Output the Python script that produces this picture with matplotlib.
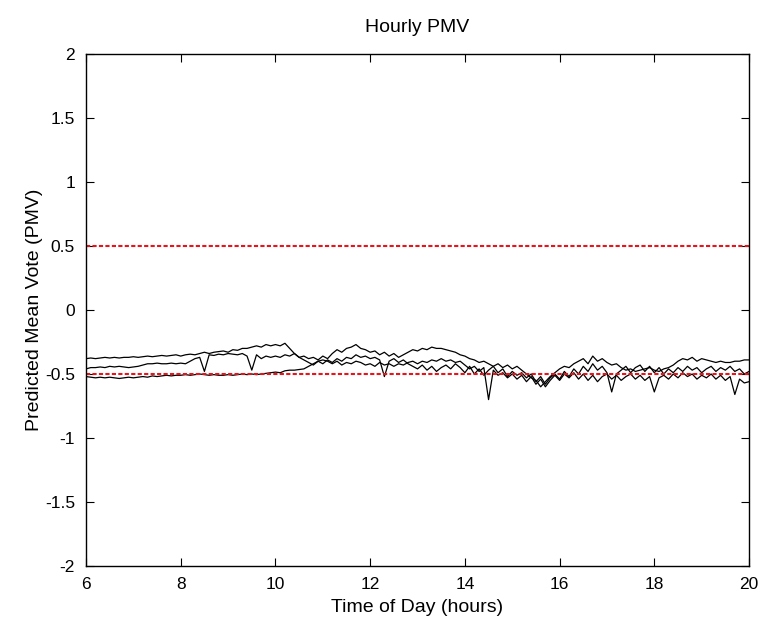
import numpy as np
import matplotlib
matplotlib.use("Agg")
import matplotlib.pyplot as plt

plt.rcParams['font.family'] = ['Liberation Sans', 'DejaVu Sans']
plt.rcParams['axes.unicode_minus'] = False

# time of day, one reading every 0.1 h
hours = np.round(np.arange(6.0, 20.01, 0.1), 1)

# three PMV traces
pmv_a = [
    -0.38, -0.375, -0.38, -0.375, -0.37, -0.375, -0.37, -0.375, -0.37, -0.37,
    -0.365, -0.37, -0.365, -0.36, -0.365, -0.36, -0.355, -0.36, -0.355, -0.35,
    -0.36, -0.35, -0.345, -0.35, -0.34, -0.33, -0.34, -0.33, -0.325, -0.32,
    -0.33, -0.31, -0.315, -0.30, -0.30, -0.29, -0.28, -0.29, -0.27, -0.28,
    -0.27, -0.28, -0.26, -0.30, -0.34, -0.37, -0.36, -0.38, -0.37, -0.39,
    -0.36, -0.38, -0.34, -0.31, -0.33, -0.30, -0.29, -0.27, -0.30, -0.31,
    -0.33, -0.32, -0.35, -0.33, -0.36, -0.34, -0.37, -0.35, -0.33, -0.31,
    -0.32, -0.30, -0.31, -0.29, -0.30, -0.30, -0.31, -0.32, -0.33, -0.35,
    -0.36, -0.38, -0.39, -0.41, -0.40, -0.42, -0.44, -0.42, -0.45, -0.43,
    -0.46, -0.44, -0.47, -0.50, -0.53, -0.55, -0.60, -0.56, -0.52, -0.49,
    -0.46, -0.44, -0.45, -0.42, -0.40, -0.38, -0.42, -0.36, -0.40, -0.38,
    -0.41, -0.43, -0.42, -0.45, -0.47, -0.46, -0.48, -0.47, -0.46, -0.45,
    -0.47, -0.48, -0.46, -0.45, -0.43, -0.40, -0.38, -0.39, -0.37, -0.40,
    -0.38, -0.39, -0.40, -0.41, -0.40, -0.41, -0.41, -0.40, -0.40, -0.39,
    -0.39,
]
pmv_b = [
    -0.46, -0.45, -0.45, -0.445, -0.45, -0.44, -0.445, -0.44, -0.445, -0.45,
    -0.445, -0.44, -0.43, -0.42, -0.42, -0.415, -0.42, -0.42, -0.415, -0.42,
    -0.415, -0.42, -0.40, -0.38, -0.37, -0.48, -0.35, -0.355, -0.345, -0.35,
    -0.34, -0.345, -0.35, -0.34, -0.36, -0.47, -0.35, -0.38, -0.36, -0.37,
    -0.36, -0.37, -0.35, -0.36, -0.34, -0.37, -0.39, -0.41, -0.43, -0.40,
    -0.42, -0.39, -0.41, -0.38, -0.40, -0.37, -0.38, -0.35, -0.37, -0.36,
    -0.38, -0.37, -0.39, -0.52, -0.40, -0.38, -0.41, -0.39, -0.42, -0.44,
    -0.46, -0.43, -0.47, -0.44, -0.48, -0.45, -0.43, -0.46, -0.42, -0.45,
    -0.49, -0.44, -0.50, -0.46, -0.51, -0.47, -0.44, -0.49, -0.46, -0.52,
    -0.48, -0.51, -0.49, -0.53, -0.50, -0.56, -0.52, -0.58, -0.53, -0.50,
    -0.54, -0.48, -0.52, -0.46, -0.50, -0.44, -0.48, -0.42, -0.47, -0.44,
    -0.49, -0.64, -0.50, -0.47, -0.44, -0.49, -0.45, -0.43, -0.48, -0.44,
    -0.49, -0.45, -0.50, -0.46, -0.49, -0.45, -0.48, -0.44, -0.47, -0.45,
    -0.49, -0.46, -0.44, -0.48, -0.45, -0.47, -0.44, -0.48, -0.46, -0.50,
    -0.48,
]
pmv_c = [
    -0.52, -0.525, -0.53, -0.525, -0.53, -0.525, -0.53, -0.535, -0.53, -0.525,
    -0.53, -0.525, -0.52, -0.525, -0.515, -0.52, -0.515, -0.51, -0.515, -0.51,
    -0.51, -0.505, -0.51, -0.505, -0.50, -0.505, -0.51, -0.505, -0.51, -0.51,
    -0.505, -0.51, -0.505, -0.50, -0.505, -0.50, -0.505, -0.50, -0.495, -0.49,
    -0.485, -0.49, -0.475, -0.47, -0.47, -0.465, -0.46, -0.44, -0.42, -0.40,
    -0.39, -0.40, -0.42, -0.40, -0.43, -0.41, -0.42, -0.40, -0.41, -0.43,
    -0.42, -0.44, -0.41, -0.43, -0.42, -0.44, -0.42, -0.43, -0.41, -0.40,
    -0.42, -0.40, -0.41, -0.39, -0.40, -0.38, -0.40, -0.39, -0.41, -0.40,
    -0.43, -0.46, -0.44, -0.48, -0.45, -0.70, -0.47, -0.51, -0.49, -0.53,
    -0.50, -0.54, -0.51, -0.56, -0.52, -0.58, -0.54, -0.60, -0.55, -0.51,
    -0.55, -0.50, -0.53, -0.49, -0.54, -0.50, -0.55, -0.51, -0.56, -0.52,
    -0.50, -0.54, -0.51, -0.55, -0.52, -0.50, -0.54, -0.51, -0.55, -0.52,
    -0.64, -0.53, -0.51, -0.54, -0.50, -0.53, -0.49, -0.52, -0.50, -0.54,
    -0.51, -0.53, -0.50, -0.54, -0.51, -0.55, -0.52, -0.66, -0.54, -0.57,
    -0.56,
]

comfort_limits = [0.5, -0.5]

y_ticks = [-2, -1.5, -1, -0.5, 0, 0.5, 1, 1.5, 2]
y_tick_labels = ['-2', '-1.5', '-1', '-0.5', '0', '0.5', '1', '1.5', '2']
x_ticks = [6, 8, 10, 12, 14, 16, 18, 20]

fig = plt.figure(figsize=(7.8, 6.25), dpi=100)
ax = fig.add_axes([0.1103, 0.0944, 0.85, 0.8192])

for series in (pmv_a, pmv_b, pmv_c):
    ax.plot(hours, series, color='black', lw=0.9)

for lim in comfort_limits:
    ax.axhline(lim, color='#e8141b', lw=1.5, dashes=(2.0, 1.1))

ax.set_xlim(6, 20)
ax.set_ylim(-2, 2)
ax.set_xticks(x_ticks)
ax.set_yticks(y_ticks)
ax.set_yticklabels(y_tick_labels)
ax.tick_params(direction='in', length=6, width=0.8, labelsize=12.5,
               top=True, right=True, pad=8)
for sp in ax.spines.values():
    sp.set_linewidth(1.0)

ax.set_title('Hourly PMV', fontsize=14, pad=16)
ax.set_xlabel('Time of Day (hours)', fontsize=14, labelpad=5)
ax.set_ylabel('Predicted Mean Vote (PMV)', fontsize=14, labelpad=1)

plt.savefig('out.png', dpi=100)
